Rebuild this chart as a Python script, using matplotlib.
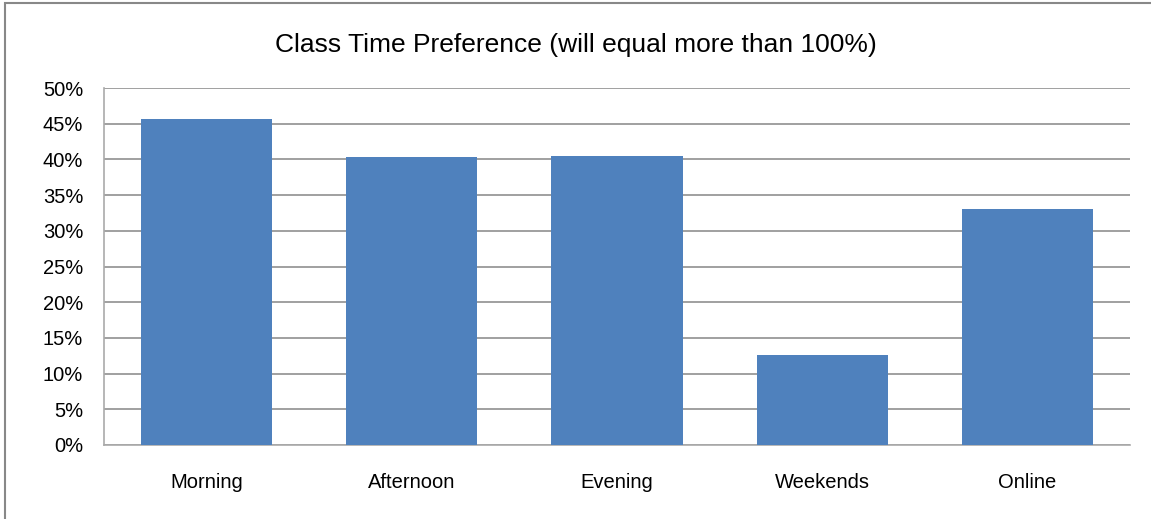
import matplotlib
matplotlib.use("Agg")
import matplotlib.pyplot as plt
from matplotlib.patches import Rectangle
from matplotlib.ticker import FuncFormatter

categories = ["Morning", "Afternoon", "Evening", "Weekends", "Online"]
values = [45.6, 40.3, 40.5, 12.6, 33.1]
yticks = [0, 5, 10, 15, 20, 25, 30, 35, 40, 45, 50]

plt.rcParams['font.family'] = ['Liberation Sans', 'DejaVu Sans']

W, H = 1151, 519
fig = plt.figure(figsize=(W / 100, H / 100), dpi=100)
fig.patch.set_facecolor("white")

# outer chart border
fig.patches.append(Rectangle((5 / W, -0.05), 1.2, 1 - 3 / H + 0.05, transform=fig.transFigure,
                             fill=False, edgecolor="#888888", linewidth=1.5, zorder=0))

ax = fig.add_axes([104 / W, 1 - 445 / H, (1130 - 104) / W, (445 - 88) / H])
x = range(len(categories))
ax.bar(x, values, width=0.64, color="#4F81BD", zorder=3)
ax.set_xlim(-0.5, len(categories) - 0.5)
ax.set_ylim(0, 50)
ax.set_yticks(yticks)
ax.yaxis.set_major_formatter(FuncFormatter(lambda v, p: f"{int(v)}%"))
ax.set_xticks(list(x))
ax.set_xticklabels(categories)
ax.grid(axis="y", color="#909090", linewidth=1.2, zorder=0)
for s in ["top", "right"]:
    ax.spines[s].set_visible(False)
for s in ["left", "bottom"]:
    ax.spines[s].set_color("#aaaaaa")
    ax.spines[s].set_linewidth(1.2)
ax.tick_params(axis="y", length=0, labelsize=14.5, pad=15)
ax.tick_params(axis="x", length=0, labelsize=14.5, pad=20)

fig.text(0.5, 1 - 45 / H, "Class Time Preference (will equal more than 100%)",
         ha="center", va="center", fontsize=19)

fig.savefig("out.png", dpi=100)
